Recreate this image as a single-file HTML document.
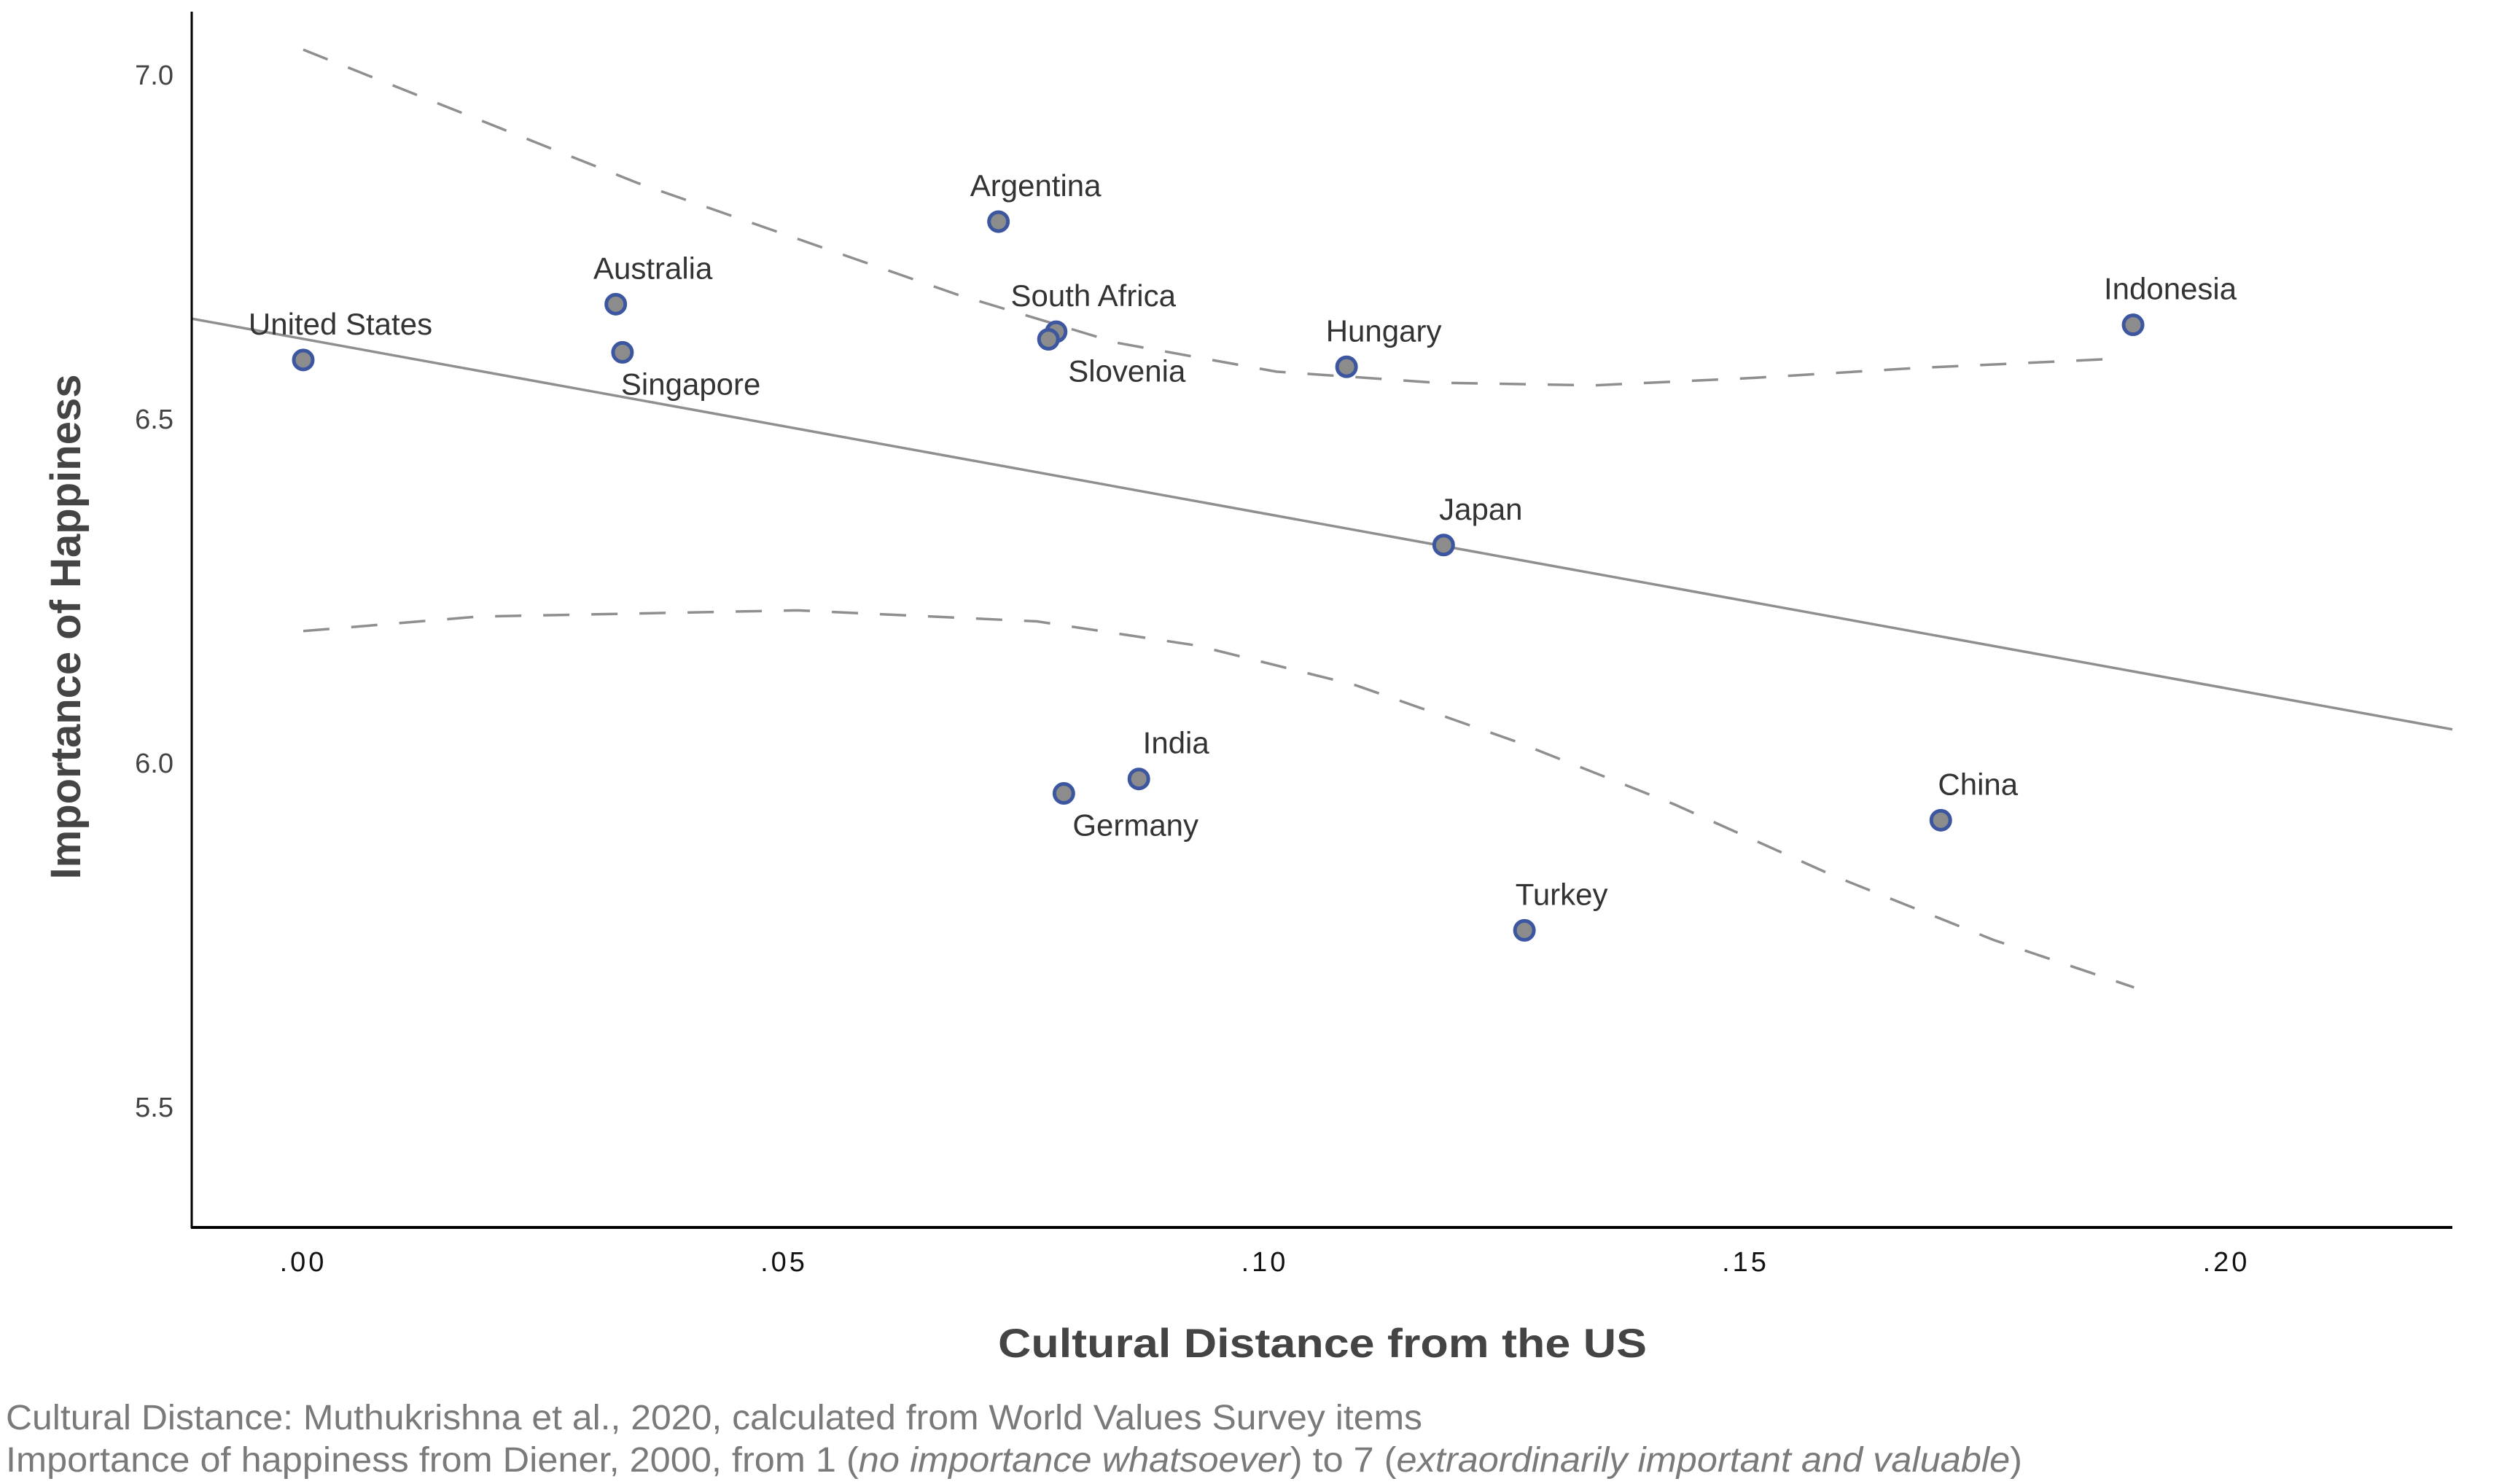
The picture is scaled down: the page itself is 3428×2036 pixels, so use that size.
<!DOCTYPE html>
<html><head><meta charset="utf-8"><style>
html,body{margin:0;padding:0;background:#fff;}
svg{display:block;font-family:"Liberation Sans",sans-serif;}
</style></head><body>
<svg id="chart" width="3428" height="2036" viewBox="0 0 3428 2036" xmlns="http://www.w3.org/2000/svg">
<g id="plot"></g>
<line x1="263" y1="16" x2="263" y2="1685" stroke="#000" stroke-width="3"/>
<line x1="262" y1="1684" x2="3364" y2="1684" stroke="#000" stroke-width="4"/>
<text transform="translate(110,860) rotate(-90)" text-anchor="middle" font-size="58" font-weight="bold" fill="#444">Importance of Happiness</text>
<text x="1814" y="1862" text-anchor="middle" font-size="56" font-weight="bold" fill="#444" textLength="890" lengthAdjust="spacingAndGlyphs">Cultural Distance from the US</text>
<text x="8" y="1961" font-size="48" fill="#7a7a7a" textLength="1943" lengthAdjust="spacingAndGlyphs">Cultural Distance: Muthukrishna et al., 2020, calculated from World Values Survey items</text>
<text x="8" y="2019" font-size="48" fill="#7a7a7a" textLength="2766" lengthAdjust="spacingAndGlyphs">Importance of happiness from Diener, 2000, from 1 (<tspan font-style="italic">no importance whatsoever</tspan>) to 7 (<tspan font-style="italic">extraordinarily important and valuable</tspan>)</text>
</svg>
<script>
const countries = ["United States","Australia","Singapore","Argentina","South Africa","Slovenia","Hungary","Indonesia","Japan","India","Germany","China","Turkey"];
const distance = [0.0, 0.0325, 0.0332, 0.0723, 0.0783, 0.0775, 0.1085, 0.1903, 0.1186, 0.0869, 0.0791, 0.1703, 0.1270];
const happiness = [6.586, 6.667, 6.597, 6.787, 6.627, 6.616, 6.576, 6.637, 6.317, 5.977, 5.956, 5.917, 5.757];
const labelBelow = [false,false,true,false,false,true,false,false,false,false,true,false,false];
const belowDx = [0,0,-2,0,0,27,0,0,0,0,12,0,0];
const xTicks = [0, 0.05, 0.10, 0.15, 0.20];
const xTickLabels = [".00", ".05", ".10", ".15", ".20"];
const yTicks = [7.0, 6.5, 6.0, 5.5];
const yTickLabels = ["7.0", "6.5", "6.0", "5.5"];
const fitX = [-0.0116, 0.2235];
const fitY = [6.646, 6.049];
const ciUpperX = [0, 0.0348, 0.068, 0.0846, 0.1012, 0.1177, 0.1343, 0.1509, 0.1675, 0.189];
const ciUpperY = [7.037, 6.843, 6.681, 6.611, 6.569, 6.553, 6.549, 6.560, 6.574, 6.588];
const ciLowerX = [0, 0.0182, 0.0514, 0.0763, 0.0929, 0.1095, 0.126, 0.1426, 0.1592, 0.1758, 0.1904];
const ciLowerY = [6.192, 6.213, 6.222, 6.206, 6.171, 6.113, 6.032, 5.940, 5.836, 5.743, 5.674];

const NS = "http://www.w3.org/2000/svg";
const X = v => 416 + v * 13190;
const Y = v => 103 + (7 - v) / 0.5 * 472;
const svg = document.getElementById("chart");
const plot = document.getElementById("plot");
function mk(tag, attrs, parent) {
  const e = document.createElementNS(NS, tag);
  for (const k in attrs) e.setAttribute(k, attrs[k]);
  (parent || plot).appendChild(e);
  return e;
}
xTicks.forEach((t, i) => {
  const e = mk("text", {x: X(t), y: 1744, "text-anchor": "middle", "font-size": 38, fill: "#111", "letter-spacing": 4}, svg);
  
  
  e.textContent = xTickLabels[i];
});
yTicks.forEach((t, i) => {
  const e = mk("text", {x: 238, y: Y(t) + 13, "text-anchor": "end", "font-size": 38, fill: "#444"}, svg);
  
  
  e.textContent = yTickLabels[i];
});
function pathOf(xs, ys) { return xs.map((x, i) => (i ? "L" : "M") + X(x).toFixed(1) + " " + Y(ys[i]).toFixed(1)).join(" "); }
const fit = mk("path", {d: pathOf(fitX, fitY), stroke: "#8f8f8f", "stroke-width": 3.5, fill: "none"});


const up = mk("path", {d: pathOf(ciUpperX, ciUpperY), stroke: "#8f8f8f", "stroke-width": 3.5, fill: "none", "stroke-dasharray": "36 30"});


const lo = mk("path", {d: pathOf(ciLowerX, ciLowerY), stroke: "#8f8f8f", "stroke-width": 3.5, fill: "none", "stroke-dasharray": "36 30"});


countries.forEach((c, i) => {
  const cx = X(distance[i]), cy = Y(happiness[i]);
  const p = mk("circle", {cx: cx, cy: cy, r: 13, fill: "#8c8c8c", stroke: "#3d56a0", "stroke-width": 5});
  
  
  let t;
  if (labelBelow[i]) {
    t = mk("text", {x: cx + belowDx[i], y: cy + 58, "text-anchor": "start", "font-size": 42, fill: "#333"});
  } else {
    t = mk("text", {x: cx + 51, y: cy - 35, "text-anchor": "middle", "font-size": 42, fill: "#333"});
  }
  
  
  t.textContent = c;
});
</script>
</body></html>
